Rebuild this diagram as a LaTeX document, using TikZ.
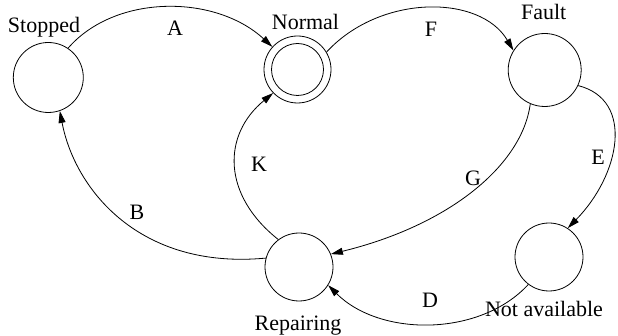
\documentclass[tikz,border=0pt]{standalone}
\usepackage{fontspec}
\setmainfont{Liberation Serif}
\usetikzlibrary{arrows.meta}
\begin{document}
\begin{tikzpicture}[x=1pt,y=-1pt,
  state/.style={circle,draw,line width=0.8pt,inner sep=0pt,minimum size=#1},
  lbl/.style={anchor=base,inner sep=0pt,font=\fontsize{22}{26}\selectfont},
  edge/.style={draw,line width=0.8pt,-{Triangle[length=12pt,width=7pt]}}]
\useasboundingbox (0,0) rectangle (618,336);
% states
\node[state=70] (s) at (48.3,77.5) {};
\node[state=67] (n) at (297.5,69.5) {};
\draw[line width=0.8pt] (n.center) circle (26);
\node[state=73] (f) at (544.7,70) {};
\node[state=68] (r) at (299,267) {};
\node[state=68] (na) at (549,257) {};
% state labels
\node[lbl] (ls) at (44,32.5) {Stopped};
\node[lbl] (ln) at (305.5,30) {Normal};
\node[lbl] (lf) at (543.7,20) {Fault};
\node[lbl] (lr) at (298,330.7) {Repairing};
\node[lbl] (lna) at (544,316.7) {Not available};
% transitions
\draw[edge] (s.56) .. controls (115,-6) and (215,-6) .. (n.138);
\draw[edge] (n.31) .. controls (380,-6) and (480,-6) .. (f.148);
\draw[edge] (f.-25) .. controls (635,100) and (620,175) .. (na.57);
\draw[edge] (f.-113) .. controls (522,165) and (450,225) .. (r.22);
\draw[edge] (na.-127) .. controls (480,337) and (380,337) .. (r.-32);
\draw[edge] (r.127) .. controls (222,195) and (222,135) .. (n.-136);
\draw[edge] (r.165) .. controls (140,270) and (75,190) .. (s.-71);
% transition labels
\node[lbl] (ea) at (175,36) {A};
\node[lbl] (ef) at (431,37) {F};
\node[lbl] (ee) at (598,165) {E};
\node[lbl] (eg) at (473,186) {G};
\node[lbl] (ed) at (430,308) {D};
\node[lbl] (ek) at (259,172) {K};
\node[lbl] (eb) at (137,220) {B};
\end{tikzpicture}
\end{document}
